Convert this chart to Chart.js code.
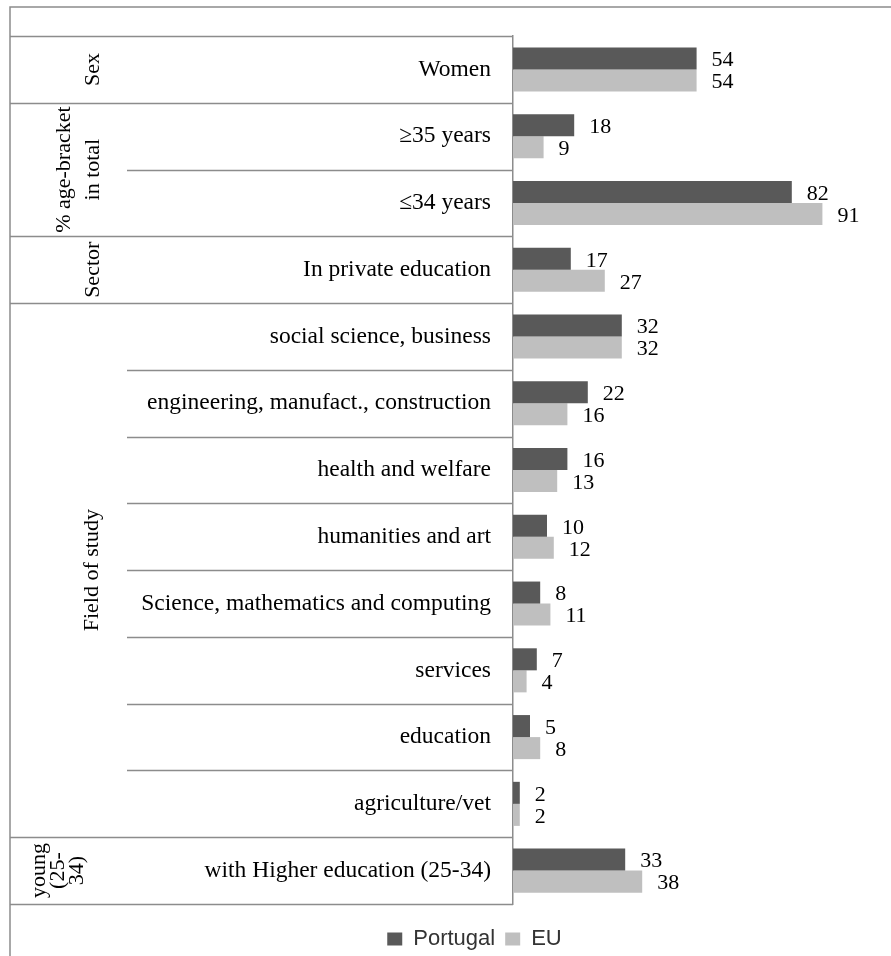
<!DOCTYPE html>
<html>
<head>
<meta charset="utf-8">
<script src="https://cdn.jsdelivr.net/npm/chart.js@4.4.0/dist/chart.umd.min.js"></script>
<style>
  html, body { margin: 0; padding: 0; background: #fff; }
  #wrap { width: 891px; height: 956px; }
</style>
</head>
<body>
<div id="wrap"><canvas id="chart"></canvas></div>
<script>
// Categories, top to bottom
const categories = [
    'Women',
    '≥35 years',
    '≤34 years',
    'In private education',
    'social science, business',
    'engineering, manufact., construction',
    'health and welfare',
    'humanities and art',
    'Science, mathematics and computing',
    'services',
    'education',
    'agriculture/vet',
    'with Higher education (25-34)'
];
const portugal = [54, 18, 82, 17, 32, 22, 16, 10, 8, 7, 5, 2, 33];
const eu = [54, 9, 91, 27, 32, 16, 13, 12, 11, 4, 8, 2, 38];

// Outer groups: label lines and how many rows each one covers
const groupLabels = [['Sex'], ['% age-bracket', 'in total'], ['Sector'], ['Field of study'], ['young', '(25-', '34)']];
const groupSizes = [1, 2, 1, 8, 1];

// Look of the table on the left
const lineColor = '#8c8c8c';
const frameLeft = 10;
const innerLeft = 127;
const frameTop = 7;
const groupBaselines = [[99], [70, 99], [99], [98], [45, 64, 83]];

// Draws the frame, row separators and the rotated group names
const tablePlugin = {
    id: 'table',
    afterDraw(chart) {
        const { ctx, chartArea } = chart;
        const yScale = chart.scales.y;
        const n = categories.length;
        const edge = i => {
            if (i === 0) return chartArea.top;
            if (i === n) return chartArea.bottom;
            return (yScale.getPixelForValue(i - 1) + yScale.getPixelForValue(i)) / 2;
        };

        // which boundaries close a group
        const groupEdges = [0];
        groupSizes.reduce((acc, s) => { groupEdges.push(acc + s); return acc + s; }, 0);

        ctx.save();
        ctx.strokeStyle = lineColor;
        ctx.lineWidth = 1.5;

        ctx.beginPath();
        ctx.moveTo(chart.width, frameTop);
        ctx.lineTo(frameLeft, frameTop);
        ctx.lineTo(frameLeft, chart.height);
        ctx.stroke();

        for (let i = 0; i <= n; i++) {
            const y = Math.round(edge(i)) + 0.5;
            const x0 = groupEdges.includes(i) ? frameLeft : innerLeft;
            ctx.beginPath();
            ctx.moveTo(x0, y);
            ctx.lineTo(chartArea.left, y);
            ctx.stroke();
        }

        ctx.fillStyle = '#000';
        ctx.font = "22px 'Liberation Serif', serif";
        ctx.textAlign = 'center';
        ctx.textBaseline = 'alphabetic';
        groupLabels.forEach((lines, g) => {
            const yc = (edge(groupEdges[g]) + edge(groupEdges[g + 1])) / 2;
            lines.forEach((line, k) => {
                ctx.save();
                ctx.translate(groupBaselines[g][k], yc);
                ctx.rotate(-Math.PI / 2);
                ctx.fillText(line, 0, 0);
                ctx.restore();
            });
        });
        ctx.restore();
    }
};

// Value next to the end of each bar
const valueLabels = {
    id: 'valueLabels',
    afterDatasetsDraw(chart) {
        const { ctx } = chart;
        ctx.save();
        ctx.font = "22px 'Liberation Serif', serif";
        ctx.fillStyle = '#000';
        ctx.textAlign = 'left';
        ctx.textBaseline = 'middle';
        chart.data.datasets.forEach((ds, di) => {
            chart.getDatasetMeta(di).data.forEach((bar, i) => {
                ctx.fillText(ds.data[i], bar.x + 15, bar.y + 2);
            });
        });
        ctx.restore();
    }
};

new Chart(document.getElementById('chart'), {
    type: 'bar',
    data: {
        labels: categories,
        datasets: [
            { label: 'Portugal', data: portugal, backgroundColor: '#595959', categoryPercentage: 0.66, barPercentage: 1 },
            { label: 'EU', data: eu, backgroundColor: '#bfbfbf', categoryPercentage: 0.66, barPercentage: 1 }
        ]
    },
    options: {
        indexAxis: 'y',
        responsive: true,
        maintainAspectRatio: false,
        animation: false,
        layout: { padding: { top: 33, left: 96, right: 38, bottom: -4 } },
        scales: {
            x: {
                min: 0,
                max: 100,
                ticks: { display: false },
                grid: { display: false, drawTicks: false },
                border: { display: false },
                afterFit: s => { s.height = 14; }
            },
            y: {
                ticks: {
                    font: { family: "'Liberation Serif', serif", size: 23.5 },
                    color: '#000',
                    padding: 22,
                    autoSkip: false
                },
                grid: { display: false, drawTicks: false },
                border: { color: lineColor, width: 1.5 },
                afterFit: s => { s.width = 417; }
            }
        },
        plugins: {
            legend: {
                position: 'bottom',
                labels: {
                    font: { family: "'Liberation Sans', sans-serif", size: 22 },
                    color: '#333',
                    boxWidth: 15,
                    boxHeight: 13,
                    padding: 10
                }
            },
            tooltip: { enabled: false }
        }
    },
    plugins: [tablePlugin, valueLabels]
});
</script>
</body>
</html>
